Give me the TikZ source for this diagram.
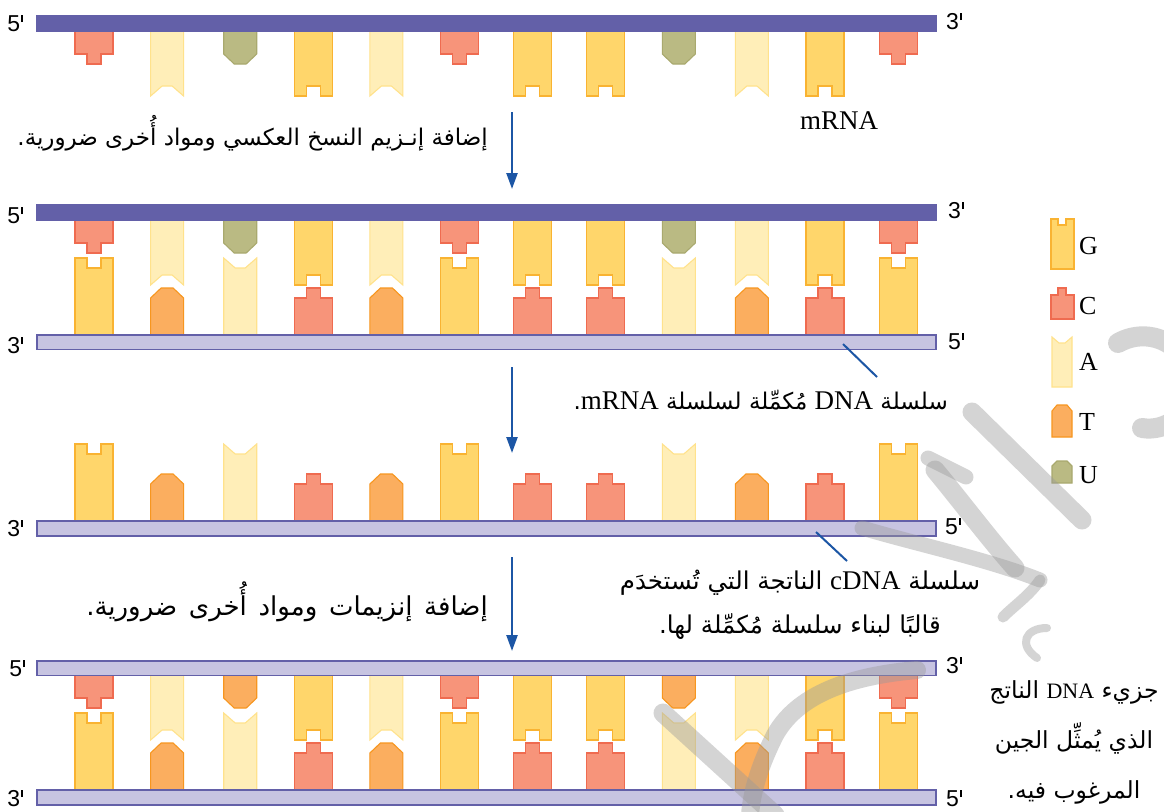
\documentclass[tikz,border=0pt]{standalone}
\usepackage{fontspec}
\usepackage{graphicx}
\setmainfont{Liberation Serif}
\newfontfamily\arabicfont[Script=Arabic]{DejaVu Sans}
\newfontfamily\primefont{Liberation Sans}
\TeXXeTstate=1
\usetikzlibrary{arrows.meta}

\definecolor{strandDark}{HTML}{6360A8}
\definecolor{strandLight}{HTML}{C7C4E1}
\definecolor{gFill}{HTML}{FFD66B}\definecolor{gLine}{HTML}{F9B332}
\definecolor{cFill}{HTML}{F7947A}\definecolor{cLine}{HTML}{EF6B50}
\definecolor{aFill}{HTML}{FFEEB8}\definecolor{aLine}{HTML}{FFE28C}
\definecolor{tFill}{HTML}{FBAE5F}\definecolor{tLine}{HTML}{F7961F}
\definecolor{uFill}{HTML}{BABA83}\definecolor{uLine}{HTML}{A9A96E}
\definecolor{flowBlue}{HTML}{1C56A5}
\definecolor{markGray}{HTML}{9A9A9A}

% prime mark after the strand-end digits
\newcommand\ptick{\kern1.2pt\rule[9pt]{1.4pt}{7.5pt}}
% Latin words inside the Arabic captions
\newcommand\lat[1]{{\rmfamily\fontsize{27}{27}\selectfont\beginL #1\endL}}
\newcommand\latsm[1]{{\rmfamily\fontsize{22}{22}\selectfont\beginL #1\endL}}

% nucleotide shapes; argument: +1 hangs down from a strand, -1 stands up on it
\newcommand\dnaG[1]{\pgfmathtruncatemacro\bl{#1>0?64:76}%
  \draw[gsty,yscale=#1] (-19,-2) -- (-19,\bl) -- (-7,\bl) -- (-7,\bl-10) -- (7,\bl-10) -- (7,\bl) -- (19,\bl) -- (19,-2) -- cycle;}
\newcommand\dnaC[1]{\pgfmathtruncatemacro\bl{#1>0?32:46}%
  \draw[csty,yscale=#1] (-19,-2) -- (-19,\bl-10) -- (-7,\bl-10) -- (-7,\bl) -- (7,\bl) -- (7,\bl-10) -- (19,\bl-10) -- (19,-2) -- cycle;}
\newcommand\dnaA[1]{\pgfmathtruncatemacro\bl{#1>0?64:76}%
  \draw[asty,yscale=#1] (-16.5,-2) -- (-16.5,\bl) -- (-5,\bl-10) -- (5,\bl-10) -- (16.5,\bl) -- (16.5,-2) -- cycle;}
\newcommand\dnaT[1]{\pgfmathtruncatemacro\bl{#1>0?32:46}%
  \draw[tsty,yscale=#1] (-16.5,-2) -- (-16.5,\bl-10) -- (-6,\bl) -- (6,\bl) -- (16.5,\bl-10) -- (16.5,-2) -- cycle;}
\newcommand\dnaU[1]{\pgfmathtruncatemacro\bl{#1>0?32:46}%
  \draw[usty,yscale=#1] (-16.5,-2) -- (-16.5,\bl-10) -- (-6,\bl) -- (6,\bl) -- (16.5,\bl-10) -- (16.5,-2) -- cycle;}

\tikzset{
  gsty/.style={fill=gFill,draw=gLine,line width=1.1pt},
  csty/.style={fill=cFill,draw=cLine,line width=1.1pt},
  asty/.style={fill=aFill,draw=aLine,line width=1.1pt},
  tsty/.style={fill=tFill,draw=tLine,line width=1.1pt},
  usty/.style={fill=uFill,draw=uLine,line width=1.1pt},
  pics/nb/.style args={#1/#2}{code={\csname dna#1\endcsname{#2}}},
  rnastrand/.style={rectangle,fill=strandDark,draw=none,minimum width=901,minimum height=17,inner sep=0},
  dnastrand/.style={rectangle,fill=strandLight,draw=strandDark,line width=1.6pt,minimum width=899.4,minimum height=14.6,inner sep=0},
  endlab/.style={font=\primefont\fontsize{23}{23}\selectfont,inner sep=0},
  arab/.style={font=\arabicfont\fontsize{23}{28}\selectfont,inner sep=0},
  latin/.style={font=\rmfamily\fontsize{27}{27}\selectfont,inner sep=0},
  keylab/.style={font=\rmfamily\fontsize{26}{26}\selectfont,inner sep=0,anchor=west},
  flow/.style={draw=flowBlue,line width=2.4pt,-{Triangle[length=16,width=11]}},
  leader/.style={draw=flowBlue,line width=2pt},
  wmstroke/.style={draw=markGray,opacity=0.42,line cap=round,line join=round},
}

\begin{document}
\begin{tikzpicture}[x=1pt,y=-1pt]
\useasboundingbox (0,0) rectangle (1164,811);
\fill[white] (0,0) rectangle (1164,811);

% ---- mRNA alone
\foreach \b [count=\i from 0] in {C,A,U,G,A,C,G,G,U,A,G,C}
  \pic at ({94+73.1*\i},32) {nb=\b/1};
\node[rnastrand] (m1) at (486.5,23.5) {};

% ---- mRNA with the cDNA built on it
\foreach \b [count=\i from 0] in {C,A,U,G,A,C,G,G,U,A,G,C}
  \pic at ({94+73.1*\i},221) {nb=\b/1};
\foreach \b [count=\i from 0] in {G,T,A,C,T,G,C,C,A,T,C,G}
  \pic at ({94+73.1*\i},334) {nb=\b/-1};
\node[rnastrand] (m2) at (486.5,212.5) {};
\node[dnastrand] (c2) at (486.5,342) {};

% ---- single cDNA strand
\foreach \b [count=\i from 0] in {G,T,A,C,T,G,C,C,A,T,C,G}
  \pic at ({94+73.1*\i},520) {nb=\b/-1};
\node[dnastrand] (c3) at (486.5,528.5) {};

% ---- double-stranded DNA
\foreach \b [count=\i from 0] in {C,A,T,G,A,C,G,G,T,A,G,C}
  \pic at ({94+73.1*\i},676) {nb=\b/1};
\foreach \b [count=\i from 0] in {G,T,A,C,T,G,C,C,A,T,C,G}
  \pic at ({94+73.1*\i},789) {nb=\b/-1};
\node[dnastrand] (d4) at (486.5,668) {};
\node[dnastrand] (c4) at (486.5,797.5) {};

% ---- strand ends
\node[endlab,anchor=base east] (m1l) at (23,31) {5\ptick};
\node[endlab,anchor=base west] (m1r) at (946,29) {3\ptick};
\node[endlab,anchor=base east] (m2l) at (23,223) {5\ptick};
\node[endlab,anchor=base west] (m2r) at (948,218) {3\ptick};
\node[endlab,anchor=base east] (c2l) at (23,353) {3\ptick};
\node[endlab,anchor=base west] (c2r) at (948,349) {5\ptick};
\node[endlab,anchor=base east] (c3l) at (23,536) {3\ptick};
\node[endlab,anchor=base west] (c3r) at (945,534) {5\ptick};
\node[endlab,anchor=base east] (d4l) at (25,676) {5\ptick};
\node[endlab,anchor=base west] (d4r) at (946,673) {3\ptick};
\node[endlab,anchor=base east] (c4l) at (23,806) {3\ptick};
\node[endlab,anchor=base west] (c4r) at (946,806) {5\ptick};

% ---- process arrows
\coordinate (a1s) at (512,112); \coordinate (a1e) at (512,189);
\coordinate (a2s) at (512,367); \coordinate (a2e) at (512,453);
\coordinate (a3s) at (512,557); \coordinate (a3e) at (512,651);
\draw[flow] (a1s) -- (a1e);
\draw[flow] (a2s) -- (a2e);
\draw[flow] (a3s) -- (a3e);

% ---- captions
\node[latin] (mrna) at (839,121) {mRNA};
\node[arab,anchor=east] (step1) at (488,133)
  {\beginR إضافة إنـزيم النسخ العكسي ومواد أُخرى ضرورية.\endR};
\node[arab,anchor=east,font=\arabicfont\fontsize{26}{30}\selectfont] (step2) at (488,602)
  {\spaceskip=0.45em\relax\beginR إضافة إنزيمات ومواد أُخرى ضرورية.\endR};
\node[arab,anchor=east] (cdna) at (948,400)
  {\beginR سلسلة \lat{DNA} مُكمِّلة لسلسلة \lat{mRNA}.\endR};
\node[arab,align=center,font=\arabicfont\fontsize{24.5}{44}\selectfont] (tmpl) at (800,605)
  {\beginR سلسلة \lat{cDNA} الناتجة التي تُستخدَم\endR\\\beginR قالبًا لبناء سلسلة مُكمِّلة لها.\endR};
\node[arab,align=center,font=\arabicfont\fontsize{23.5}{50}\selectfont] (gene) at (1074,742)
  {\beginR جزيء \latsm{DNA} الناتج\endR\\\beginR الذي يُمثِّل الجين\endR\\\beginR المرغوب فيه.\endR};

% ---- leader lines
\coordinate (l1a) at (843,344); \coordinate (l1b) at (877,377);
\coordinate (l2a) at (816,532); \coordinate (l2b) at (847,561);
\draw[leader] (l1a) -- (l1b);
\draw[leader] (l2a) -- (l2b);

% ---- key
\draw[gsty] (1051,219) -- (1058,219) -- (1058,225) -- (1066,225) -- (1066,219) -- (1074,219) -- (1074,269) -- (1051,269) -- cycle;
\draw[csty] (1051,295) -- (1058,295) -- (1058,288) -- (1066,288) -- (1066,295) -- (1074,295) -- (1074,319) -- (1051,319) -- cycle;
\draw[asty] (1052,337) -- (1059,343) -- (1065,343) -- (1072,337) -- (1072,387) -- (1052,387) -- cycle;
\draw[tsty] (1052,411) -- (1057,405) -- (1067,405) -- (1072,411) -- (1072,437) -- (1052,437) -- cycle;
\draw[usty] (1052,466) -- (1057,461) -- (1067,461) -- (1072,466) -- (1072,483) -- (1052,483) -- cycle;
\node[keylab] (kG) at (1079,246) {G};
\node[keylab] (kC) at (1079,306) {C};
\node[keylab] (kA) at (1079,362) {A};
\node[keylab] (kT) at (1079,422) {T};
\node[keylab] (kU) at (1079,475) {U};

% ---- background calligraphy mark
\begin{scope}
\clip (0,0) rectangle (1164,811);
\draw[wmstroke,line width=20] (1118,343) .. controls (1150,325) and (1190,345) .. (1192,385) .. controls (1192,415) and (1165,432) .. (1142,428);
\draw[wmstroke,line width=19] (972,412) -- (1082,520);
\draw[wmstroke,line width=15] (928,458) -- (966,477);
\draw[wmstroke,line width=19] (935,470) .. controls (960,500) and (990,540) .. (1015,568);
\draw[wmstroke,line width=15] (862,528) .. controls (920,545) and (990,560) .. (1040,580);
\draw[wmstroke,line width=11] (1040,580) .. controls (1030,595) and (1015,605) .. (1003,617);
\draw[wmstroke,line width=8] (1047,628) .. controls (1025,628) and (1018,645) .. (1037,658);
\draw[wmstroke,line width=19] (663,713) -- (775,815);
\draw[wmstroke,line width=18] (917,670) .. controls (860,675) and (800,690) .. (775,735) .. controls (760,765) and (752,790) .. (750,815);
\end{scope}
\end{tikzpicture}
\end{document}
